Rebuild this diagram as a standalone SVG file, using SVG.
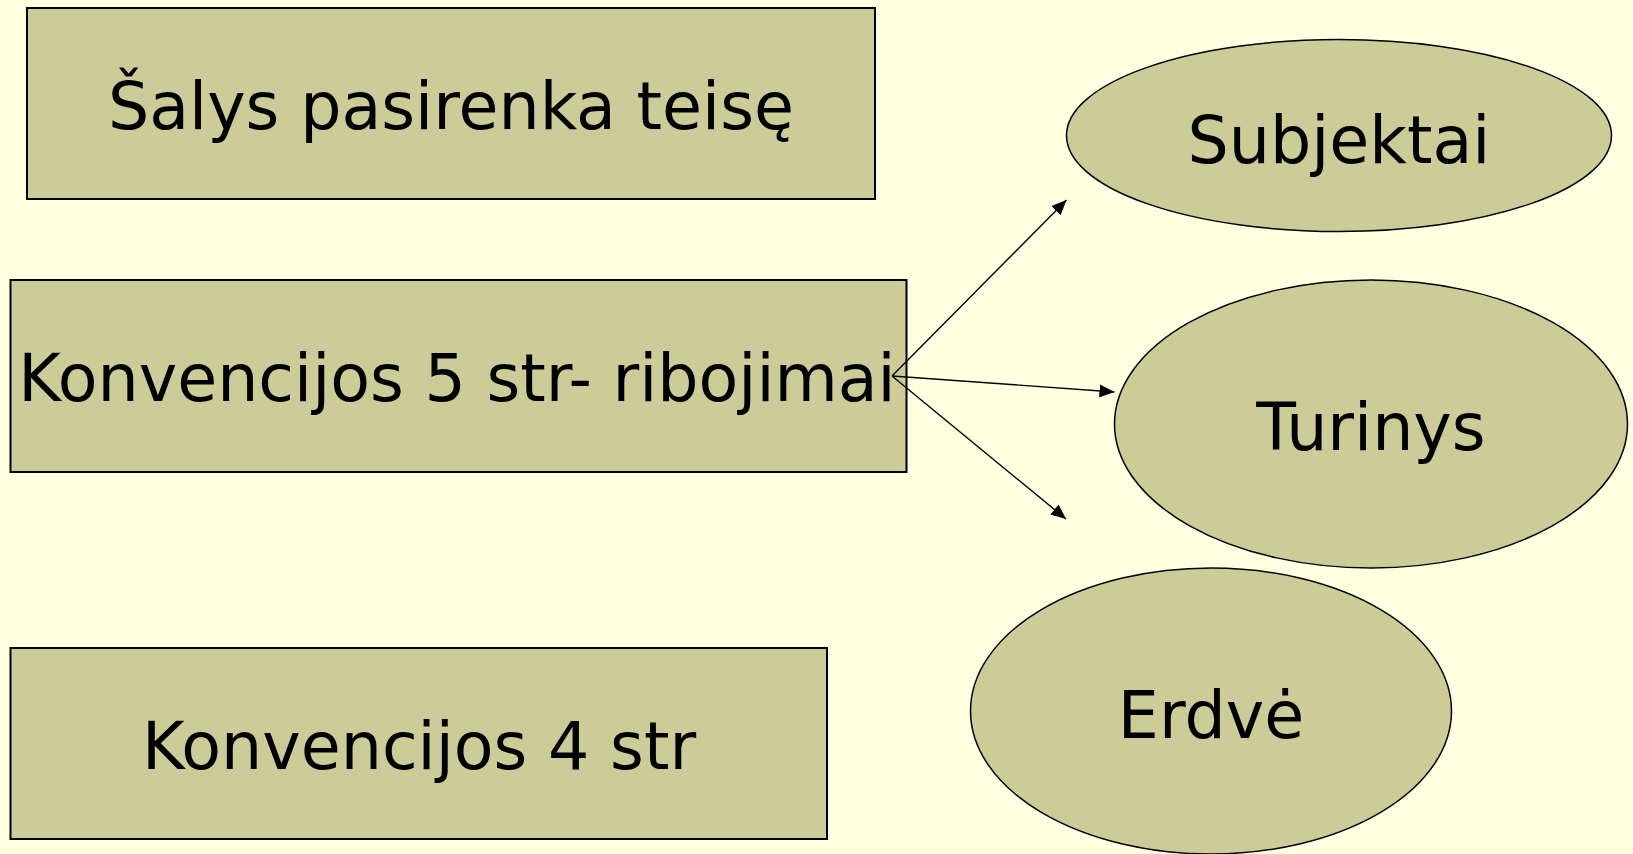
<svg xmlns="http://www.w3.org/2000/svg" width="1633" height="854" viewBox="0 0 1633 854">
<style>
.box{fill:#CCCC99;stroke:#000;stroke-width:2}
.ell{fill:#CCCC99;stroke:#000;stroke-width:1.5}
.lbl{font-family:"DejaVu Sans",Verdana,sans-serif;font-size:65px;fill:#000;text-anchor:middle}
.con{stroke:#000;stroke-width:1.4;fill:none;marker-end:url(#ah)}
</style>
<defs>
<marker id="ah" viewBox="0 0 15 13" refX="15" refY="6.5" markerWidth="15" markerHeight="13" markerUnits="userSpaceOnUse" orient="auto">
<path d="M0,0 L15,6.5 L0,13 Z" fill="#000"/>
</marker>
</defs>
<rect x="0" y="0" width="1633" height="854" fill="#FFFFE1"/>
<g id="node-salys">
<rect class="box" x="27" y="8" width="848" height="191"/>
<text class="lbl" x="451" y="129">Šalys pasirenka teisę</text>
</g>
<g id="node-konv5">
<rect class="box" x="10.5" y="280" width="896" height="192"/>
<text class="lbl" x="457" y="401">Konvencijos 5 str- ribojimai</text>
</g>
<g id="node-konv4">
<rect class="box" x="10.5" y="648" width="816.5" height="191"/>
<text class="lbl" x="419" y="769">Konvencijos 4 str</text>
</g>
<g id="node-subjektai">
<ellipse class="ell" cx="1339" cy="135.5" rx="272.5" ry="96"/>
<text class="lbl" x="1339" y="163">Subjektai</text>
</g>
<g id="node-turinys">
<ellipse class="ell" cx="1371" cy="424" rx="256.5" ry="144"/>
<text class="lbl" x="1371" y="450">Turinys</text>
</g>
<g id="node-erdve">
<ellipse class="ell" cx="1211" cy="711" rx="240.5" ry="143"/>
<text class="lbl" x="1211" y="738">Erdvė</text>
</g>
<g id="connectors">
<line class="con" x1="892" y1="376" x2="1066.5" y2="200"/>
<line class="con" x1="892" y1="376" x2="1114.5" y2="392"/>
<line class="con" x1="892" y1="376" x2="1066" y2="519"/>
</g>
</svg>
